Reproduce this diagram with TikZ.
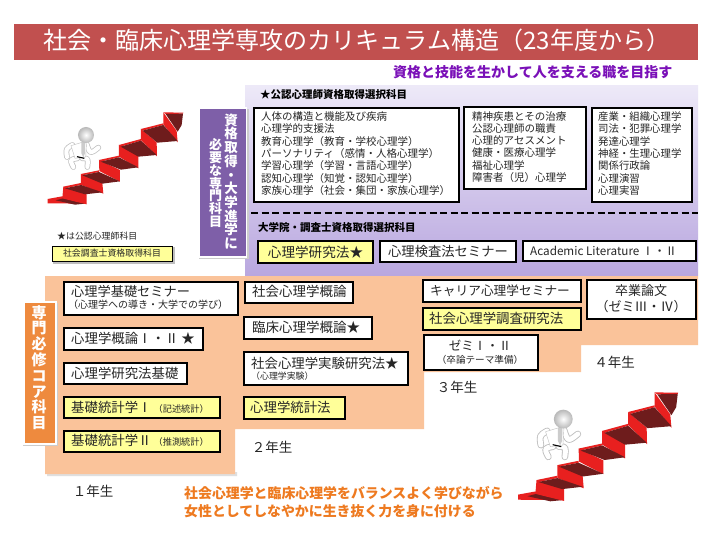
\documentclass[tikz,border=0pt]{standalone}
\usepackage{fontspec}
\setmainfont{Noto Sans CJK JP}
\usetikzlibrary{calc}
\definecolor{titlered}{HTML}{C1504F}
\definecolor{peach}{HTML}{FAC39A}
\definecolor{yel}{HTML}{FFFF99}
\definecolor{purpbox}{HTML}{7E5FA8}
\definecolor{purptop}{HTML}{EDE9F8}
\definecolor{purpbot}{HTML}{B9A7DF}
\definecolor{orgbox}{HTML}{EE8A3E}
\definecolor{goalp}{HTML}{7A10B8}
\definecolor{botor}{HTML}{EE7A20}
\definecolor{ink}{HTML}{262626}
\definecolor{stairred}{HTML}{E8201F}
\definecolor{stairdark}{HTML}{6E1C1C}
\newcommand\fs[2]{\fontsize{#1}{#2}\selectfont}
\tikzset{
  bx/.style={draw=black,line width=1.7pt,inner sep=0pt,fill=white},
  ybx/.style={bx,fill=yel},
  txt/.style={inner sep=0pt,text=ink,anchor=west,align=left},
  ctxt/.style={inner sep=0pt,text=ink,align=center},
  head/.style={inner sep=0pt,anchor=west,font=\fs{10.5}{12}\bfseries,text=black},
  yr/.style={inner sep=0pt,text=ink,font=\fs{13.5}{15}},
  vert/.style={inner sep=0pt,text=white,align=center},
  limb/.style={line cap=round,line join=round},
}
% name, x1, y1, x2, y2, style
\newcommand\boxat[6]{%
  \pgfmathsetmacro\bw{#4-#2}\pgfmathsetmacro\bh{#5-#3}%
  \pgfmathsetmacro\bcx{(#2+#4)/2}\pgfmathsetmacro\bcy{(#3+#5)/2}%
  \node[#6,minimum width=\bw pt-1.7pt,minimum height=\bh pt-1.7pt] (#1) at (\bcx,\bcy) {};}
\newcommand\stairs{%
  % bottom strip
  \fill[stairred] (8,282) -- (52,274) -- (125,296) -- (8,295) -- cycle;
  \fill[stairdark] (32,286) -- (55,280) -- (120,296) -- (90,299) -- cycle;
  % risers
  \fill[stairred] (55,245) -- (125,268) -- (125,298) -- (52,280) -- cycle;
  \fill[stairred] (108,207) -- (172,233) -- (175,266) -- (108,240) -- cycle;
  \fill[stairred] (162,165) -- (225,195) -- (225,230) -- (163,198) -- cycle;
  \fill[stairred] (222,120) -- (280,150) -- (280,190) -- (222,155) -- cycle;
  \fill[stairred] (288,72) -- (335,112) -- (336,154) -- (288,105) -- cycle;
  \fill[stairred] (355,22) -- (395,78) -- (398,112) -- (355,58) -- cycle;
  % lips
  \fill[stairred] (55,245) -- (108,234) -- (108,240) -- (60,250) -- cycle;
  \fill[stairred] (108,207) -- (162,196) -- (162,201) -- (112,211) -- cycle;
  \fill[stairred] (162,165) -- (222,152) -- (222,157) -- (167,170) -- cycle;
  \fill[stairred] (222,120) -- (288,102) -- (288,107) -- (227,125) -- cycle;
  \fill[stairred] (288,72) -- (355,55) -- (355,60) -- (293,77) -- cycle;
  \fill[stairred] (355,22) -- (415,23) -- (414,26) -- (362,27) -- cycle;
  % treads
  \fill[stairdark] (60,250) -- (108,240) -- (172,262) -- (120,268) -- cycle;
  \fill[stairdark] (112,211) -- (162,201) -- (225,229) -- (172,236) -- cycle;
  \fill[stairdark] (167,170) -- (222,157) -- (280,187) -- (228,194) -- cycle;
  \fill[stairdark] (227,125) -- (288,107) -- (335,150) -- (280,155) -- cycle;
  \fill[stairdark] (293,77) -- (355,60) -- (398,108) -- (337,113) -- cycle;
  \fill[stairdark] (362,27) -- (414,26) -- (410,60) -- (398,80) -- cycle;
  % runner
  \foreach \lw/\lc in {17/gray!50,12.5/white}{
    \draw[limb,line width=\lw*\stu,\lc] (82,120) .. controls (62,132) .. (66,156);
    \draw[limb,line width=\lw*\stu,\lc] (125,118) .. controls (135,148) .. (160,128);
    \draw[limb,line width=\lw*\stu,\lc] (97,160) .. controls (74,164) .. (85,186);
    \draw[limb,line width=\lw*\stu,\lc] (112,160) .. controls (130,160) .. (127,186);
  }
  \fill[white,draw=gray!50,line width=.4pt] (78,122) -- (125,108) -- (122,156) -- (90,160) -- cycle;
  \fill[gray!40] (109,112) -- (121,109) -- (120,145) -- (115,157) -- (109,145) -- cycle;
  \draw[black,line width=1.1pt] (96,155) -- (118,160);
  \shade[inner color=white,outer color=gray!55] (123,90) circle[radius=24];
}
\begin{document}
\begin{tikzpicture}[x=1pt,y=-1pt]
\useasboundingbox (0,0) rectangle (720,540);
\fill[white] (0,0) rectangle (720,540);
% title
\node[fill=titlered,minimum width=684pt,minimum height=36pt,inner sep=0pt] (titlebar) at (356,42) {};
\node[inner sep=0pt,text=white,font=\fs{24.05}{28},anchor=west] (title) at (43,40) {社会・臨床心理学専攻のカリキュラム構造（23年度から）};
\node[inner sep=0pt,anchor=west,text=goalp,font=\fs{14}{16}\bfseries] (goal) at (393,72) {資格と技能を生かして人を支える職を目指す};
% peach stepped field
\fill[gray!25] (47,276) -- (47,476) -- (237,476) -- (237,472) -- (47,472) -- cycle;
\fill[peach] (45,276) -- (698,276) -- (698,345) -- (581,345) -- (581,372) -- (424,372) -- (424,429) -- (235,429) -- (235,474) -- (45,474) -- cycle;
% purple field
\shade[top color=purptop,bottom color=purpbot] (245,86) rectangle (698,275);
\draw[black,line width=1.6pt,dash pattern=on 7pt off 3.5pt] (251,213) -- (698,213);
% vertical labels
\fill[gray!40] (199,109) rectangle (249,259);
\node[fill=purpbox,draw=white,line width=1.5pt,minimum width=47pt,minimum height=149pt,inner sep=0pt] (vbox1) at (223,182.5) {};
\node[vert,font=\fs{13.5}{13.7}\bfseries] (v1a) at (231,181.5) {資\\格\\取\\得\\・\\大\\学\\進\\学\\に};
\node[vert,font=\fs{13}{12.9}\bfseries] (v1b) at (215.5,183) {必\\要\\な\\専\\門\\科\\目};
\fill[gray!40] (23,303) rectangle (58,446);
\node[fill=orgbox,draw=white,line width=2pt,minimum width=32pt,minimum height=142pt,inner sep=0pt] (vbox2) at (39.5,372.5) {};
\node[vert,font=\fs{15}{15.8}\bfseries] (v2) at (39,367.5) {専\\門\\必\\修\\コ\\ア\\科\\目};
% certified psychologist section
\node[head] (h1) at (260,95) {★公認心理師資格取得選択科目};
\boxat{c1}{253}{107}{460}{203}{bx}
\boxat{c2}{463}{106}{587}{190}{bx}
\boxat{c3}{591}{107}{693}{203}{bx}
\node[txt,font=\fs{10.5}{12.4}] (c1t) at (261,153.5) {人体の構造と機能及び疾病\\心理学的支援法\\教育心理学（教育・学校心理学）\\パーソナリティ（感情・人格心理学）\\学習心理学（学習・言語心理学）\\認知心理学（知覚・認知心理学）\\家族心理学（社会・集団・家族心理学）};
\node[txt,font=\fs{10.5}{12.1}] (c2t) at (472,147) {精神疾患とその治療\\公認心理師の職責\\心理的アセスメント\\健康・医療心理学\\福祉心理学\\障害者（児）心理学};
\node[txt,font=\fs{10.4}{12.4}] (c3t) at (598,153.5) {産業・組織心理学\\司法・犯罪心理学\\発達心理学\\神経・生理心理学\\関係行政論\\心理演習\\心理実習};
% graduate section
\node[head] (h2) at (258,227) {大学院・調査士資格取得選択科目};
\boxat{g1}{257}{240}{374}{264}{ybx}
\node[ctxt,font=\fs{13.6}{15}] (g1t) at (g1) {心理学研究法★};
\boxat{g2}{379}{240}{517}{263}{bx}
\node[ctxt,font=\fs{13.3}{15}] (g2t) at (g2) {心理検査法セミナー};
\boxat{g3}{522}{240}{697}{262}{bx}
\node[txt,font=\fs{11.7}{14}] (g3t) at (530,250.5) {Academic Literature Ⅰ・Ⅱ};
% year 1
\boxat{a1}{63}{281}{239}{316}{bx}
\node[txt,font=\fs{13.2}{15}] (a1t) at (71,291) {心理学基礎セミナー};
\node[txt,font=\fs{10}{12}] (a1s) at (68,305) {（心理学への導き・大学での学び）};
\boxat{a2}{63}{327}{204}{351}{bx}
\node[txt,font=\fs{13.4}{15}] (a2t) at (71,338) {心理学概論Ⅰ・Ⅱ ★};
\boxat{a3}{63}{362}{188}{385}{bx}
\node[txt,font=\fs{13.4}{15}] (a3t) at (71,373) {心理学研究法基礎};
\boxat{a4}{63}{396}{221}{419}{ybx}
\node[txt,font=\fs{13.4}{15}] (a4t) at (71,407) {基礎統計学Ⅰ\hspace{2pt}{\fs{9.2}{11}（記述統計）}};
\boxat{a5}{63}{430}{221}{453}{ybx}
\node[txt,font=\fs{13.4}{15}] (a5t) at (71,440.5) {基礎統計学Ⅱ\hspace{2pt}{\fs{9.2}{11}（推測統計）}};
% year 2
\boxat{b1}{244}{281}{354}{304}{bx}
\node[txt,font=\fs{13.5}{15}] (b1t) at (252,291) {社会心理学概論};
\boxat{b2}{243}{316}{373}{340}{bx}
\node[txt,font=\fs{13.5}{15}] (b2t) at (252,327) {臨床心理学概論★};
\boxat{b3}{243}{351}{409}{386}{bx}
\node[txt,font=\fs{13.4}{15}] (b3t) at (251,363) {社会心理学実験研究法★};
\node[txt,font=\fs{8.9}{11}] (b3s) at (251,376) {（心理学実験）};
\boxat{b4}{243}{396}{346}{420}{ybx}
\node[txt,font=\fs{13.4}{15}] (b4t) at (250,407) {心理学統計法};
% year 3
\boxat{d1}{422}{279}{582}{303}{bx}
\node[txt,font=\fs{12.7}{15}] (d1t) at (430,291) {キャリア心理学セミナー};
\boxat{d2}{422}{307}{582}{331}{ybx}
\node[txt,font=\fs{13.4}{15}] (d2t) at (429,318) {社会心理学調査研究法};
\boxat{d3}{423}{334}{539}{371}{bx}
\node[ctxt,font=\fs{12.5}{15}] (d3t) at (480,345) {ゼミⅠ・Ⅱ};
\node[ctxt,font=\fs{9.6}{11}] (d3s) at (480,360) {（卒論テーマ準備）};
% year 4
\boxat{e1}{586}{279}{697}{320}{bx}
\node[ctxt,font=\fs{13}{15}] (e1t) at (641,291) {卒業論文};
\node[ctxt,font=\fs{13}{15}] (e1s) at (641,307) {（ゼミⅢ・Ⅳ）};
% year labels
\node[yr] (y1) at (93,491) {１年生};
\node[yr] (y2) at (272,447) {２年生};
\node[yr] (y3) at (457,387) {３年生};
\node[yr] (y4) at (614.5,362) {４年生};
% legend
\node[txt,font=\fs{8.9}{11}] (lg) at (57,236) {★は公認心理師科目};
\fill[gray!50] (53,247) rectangle (174.5,263.5);
\node[draw=black,line width=.8pt,fill=yel,minimum width=120pt,minimum height=15pt,inner sep=0pt] (lgb) at (112.5,254) {};
\node[ctxt,font=\fs{8.9}{11}] (lgt) at (112,253.5) {社会調査士資格取得科目};
% bottom message
\node[inner sep=0pt,anchor=west,text=botor,font=\fs{13.9}{16}\bfseries] (m1) at (184,493) {社会心理学と臨床心理学をバランスよく学びながら};
\node[inner sep=0pt,anchor=west,text=botor,font=\fs{13.9}{16}\bfseries] (m2) at (184,511) {女性としてしなやかに生き抜く力を身に付ける};
% staircases
\begin{scope}[shift={(45,105)},x=.3333pt,y=-.3333pt]
  \def\stu{.3333pt}\stairs
\end{scope}
\begin{scope}[shift={(514.9,383.7)},x=.3933pt,y=-.3933pt]
  \def\stu{.3933pt}\stairs
\end{scope}
\end{tikzpicture}
\end{document}
